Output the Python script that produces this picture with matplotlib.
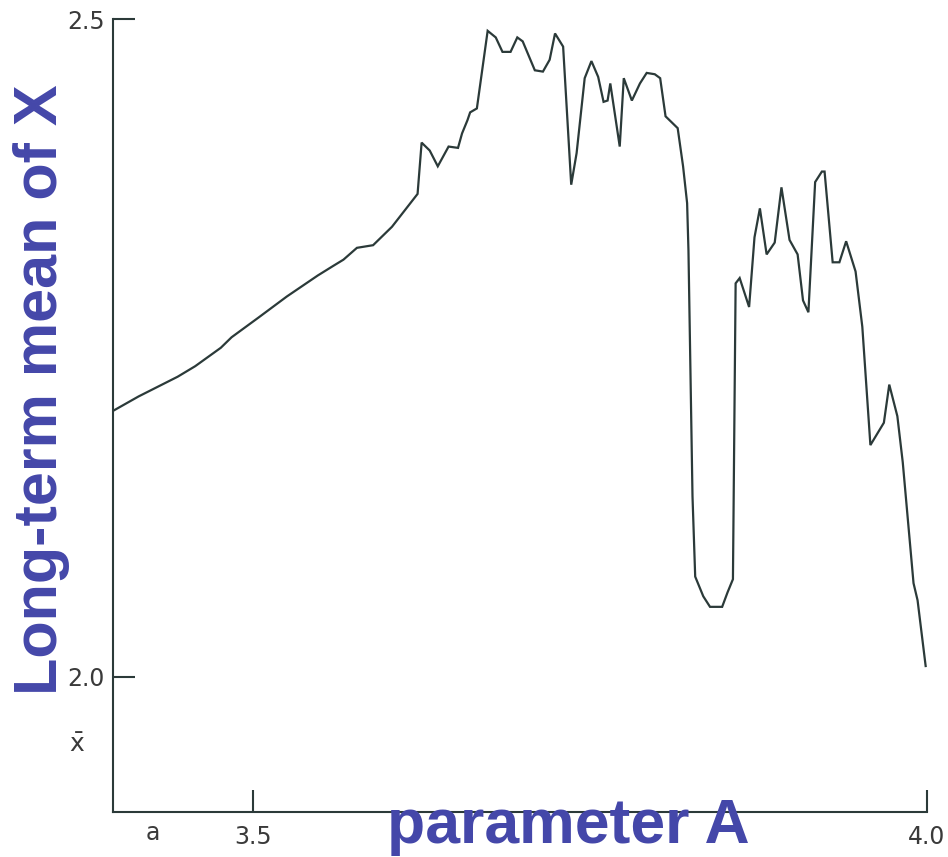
import matplotlib
matplotlib.use("Agg")
import matplotlib.pyplot as plt

# values: parameter a vs long-term mean x-bar
a_vals = [3.396, 3.415, 3.444, 3.457, 3.476, 3.484, 3.504, 3.525, 3.548, 3.559,
          3.567, 3.577, 3.589, 3.603, 3.622, 3.625, 3.631, 3.637, 3.645, 3.652,
          3.655, 3.659, 3.661, 3.666, 3.674, 3.680, 3.685, 3.691, 3.696, 3.700,
          3.709, 3.715, 3.720, 3.724, 3.730, 3.736, 3.740, 3.746, 3.751, 3.756,
          3.760, 3.763, 3.765, 3.772, 3.775, 3.781, 3.787, 3.792, 3.798, 3.802,
          3.806, 3.815, 3.819, 3.822, 3.823, 3.826, 3.828, 3.834, 3.839, 3.848,
          3.852, 3.856, 3.858, 3.861, 3.868, 3.872, 3.876, 3.881, 3.887, 3.892,
          3.898, 3.904, 3.908, 3.912, 3.917, 3.922, 3.924, 3.930, 3.935, 3.940,
          3.947, 3.952, 3.958, 3.968, 3.972, 3.978, 3.982, 3.990, 3.993, 3.999]
xbar_vals = [2.202, 2.213, 2.228, 2.236, 2.250, 2.258, 2.273, 2.289, 2.305, 2.312,
             2.317, 2.326, 2.328, 2.342, 2.367, 2.406, 2.400, 2.388, 2.403, 2.402,
             2.413, 2.423, 2.429, 2.432, 2.491, 2.486, 2.475, 2.475, 2.486, 2.483,
             2.461, 2.460, 2.469, 2.489, 2.479, 2.374, 2.398, 2.455, 2.468, 2.456,
             2.437, 2.438, 2.451, 2.403, 2.455, 2.438, 2.451, 2.459, 2.458, 2.455,
             2.426, 2.417, 2.388, 2.360, 2.324, 2.137, 2.076, 2.061, 2.053, 2.053,
             2.064, 2.074, 2.299, 2.303, 2.281, 2.334, 2.356, 2.321, 2.330, 2.372,
             2.332, 2.321, 2.286, 2.277, 2.376, 2.384, 2.384, 2.315, 2.315, 2.331,
             2.308, 2.266, 2.176, 2.193, 2.222, 2.198, 2.163, 2.071, 2.058, 2.008]

x_ticks = [3.5, 4.0]
x_ticklabels = ["3.5", "4.0"]
y_ticks = [2.0, 2.5]
y_ticklabels = ["2.0", "2.5"]

ink = "#2b3a39"
label_blue = "#4447a9"
W, H = 948, 857

plt.rcParams["mathtext.fontset"] = "dejavusans"

fig = plt.figure(figsize=(W / 100, H / 100), dpi=100)
ax = fig.add_axes([113 / W, 45 / H, (927 - 113) / W, (812 - 19) / H])

ax.plot(a_vals, xbar_vals, color=ink, lw=1.6, solid_joinstyle="miter")

ax.set_xlim(3.396, 4.0)
ax.set_ylim(1.897, 2.5)
for side in ("top", "right"):
    ax.spines[side].set_visible(False)
for side in ("left", "bottom"):
    ax.spines[side].set_color(ink)
    ax.spines[side].set_linewidth(1.5)

ax.set_xticks(x_ticks)
ax.set_xticklabels(x_ticklabels)
ax.set_yticks(y_ticks)
ax.set_yticklabels(y_ticklabels)
ax.tick_params(direction="in", length=16, width=1.5, color=ink,
               labelsize=17, labelcolor="#3a3a3a")
ax.tick_params(axis="y", pad=6)
ax.tick_params(axis="x", pad=9)

# original hand-lettered axis symbols
fig.text(153 / W, 1 - 833 / H, "a", ha="center", va="center",
         fontsize=17, color="#3a3a3a")
fig.text(77 / W, 1 - 745 / H, r"$\bar{\mathrm{x}}$", ha="center", va="center",
         fontsize=18, color="#3a3a3a")

# overlaid blue labels
fig.text(41.5 / W, 1 - 390 / H, "Long-term mean of X", rotation=90,
         ha="center", va="center", fontsize=44, fontweight="bold",
         family="Liberation Sans", color=label_blue)
fig.text(568 / W, 1 - 843 / H, "parameter A", ha="center", va="baseline",
         fontsize=45, fontweight="bold", family="Liberation Sans",
         color=label_blue)

fig.savefig("out.png", dpi=100)
